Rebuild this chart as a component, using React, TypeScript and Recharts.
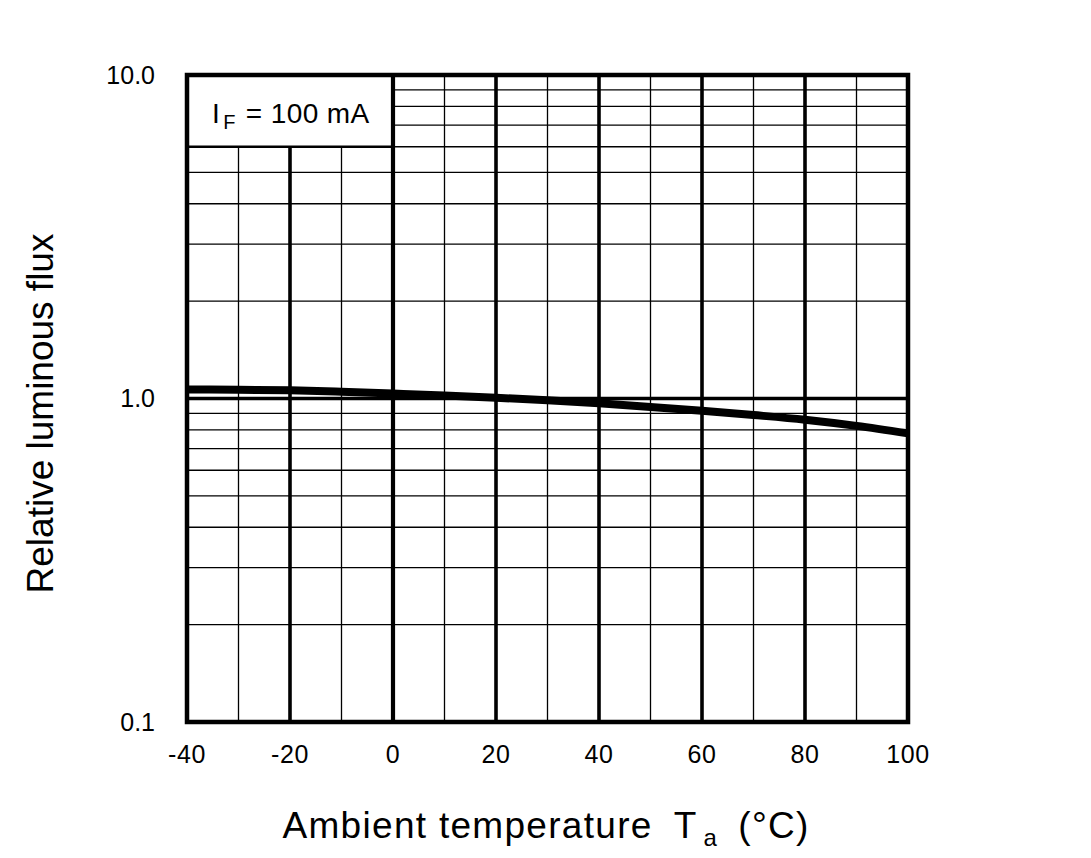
import React from "react";
import {
  ComposedChart,
  Line,
  XAxis,
  YAxis,
  ReferenceLine,
  ReferenceArea,
  Label,
} from "recharts";

// ---- data ----
const temps = [-40, -30, -20, -10, 0, 10, 20, 30, 40, 50, 60, 70, 80, 90, 100];
const flux = [1.066, 1.064, 1.06, 1.049, 1.036, 1.022, 1.006, 0.987, 0.966, 0.942, 0.916, 0.889, 0.86, 0.823, 0.78];

const xTicks = [-40, -20, 0, 20, 40, 60, 80, 100];
const yTicks = [0.1, 1, 10];
const xMajorGrid = [-20, 0, 20, 40, 60, 80];
const xMinorGrid = [-30, -10, 10, 30, 50, 70, 90];
const yMinorLow = [0.2, 0.3, 0.4, 0.5, 0.6, 0.7, 0.8, 0.9];
const yMinorHigh = [2, 3, 4, 5, 6, 7, 8, 9];
const yMajorGrid = [1];

// legend box extent (data units)
const boxX = [-40, 0];
const boxY = [6, 10];

const data = temps.map((t, i) => ({ t, flux: flux[i] }));

const FONT = "'Liberation Sans', Arial, sans-serif";
const THIN = 1.3;
const THICK = 3.6;

const LegendText = (props: any) => {
  const vb = props.viewBox || {};
  const x0 = (vb.x ?? 0) + 25;
  const yb = (vb.y ?? 0) + (vb.height ?? 0) / 2 + 12;
  return (
    <text x={x0} y={yb} fontSize={28} fontFamily={FONT} fill="#000" letterSpacing={0.4}>
      I
      <tspan dx={3} dy={6} fontSize={20}>F</tspan>
      <tspan dx={10} dy={-6}>= 100 mA</tspan>
    </text>
  );
};

const XLabel = (props: any) => {
  const vb = props.viewBox || {};
  const cx = (vb.x ?? 0) + (vb.width ?? 0) / 2;
  return (
    <text
      x={cx - 265}
      y={838}
      fontSize={37}
      fontFamily={FONT}
      fill="#000"
      letterSpacing={1.3}
    >
      <tspan>Ambient temperature</tspan>
      <tspan dx={21}>T</tspan>
      <tspan dx={6} dy={8} fontSize={24}>a</tspan>
      <tspan dx={20} dy={-8}>(°C)</tspan>
    </text>
  );
};

const YLabel = (props: any) => {
  const vb = props.viewBox || {};
  const cy = (vb.y ?? 0) + (vb.height ?? 0) / 2 + 15;
  const x = 53;
  return (
    <text
      x={x}
      y={cy}
      fontSize={37}
      fontFamily={FONT}
      fill="#000"
      textAnchor="middle"
      transform={`rotate(-90, ${x}, ${cy})`}
    >
      Relative luminous flux
    </text>
  );
};

export default function App() {
  return (
    <div style={{ position: "absolute", left: 0, top: 0, background: "#fff" }}>
      <ComposedChart
        width={1091}
        height={858}
        data={data}
        margin={{ top: 75, right: 183, bottom: 76, left: 0 }}
      >
        <XAxis
          dataKey="t"
          type="number"
          domain={[-40, 100]}
          ticks={xTicks}
          allowDataOverflow
          axisLine={false}
          tickLine={false}
          tickSize={6}
          tickMargin={17}
          height={60}
          tick={{ fontSize: 25, fontFamily: FONT, fill: "#000", letterSpacing: 0.6 }}
          interval={0}
        >
          <Label content={XLabel} />
        </XAxis>
        <YAxis
          type="number"
          scale="log"
          domain={[0.1, 10]}
          ticks={yTicks}
          allowDataOverflow
          axisLine={false}
          tickLine={false}
          tickSize={6}
          tickMargin={26}
          width={187}
          interval={0}
          tickFormatter={(v: number) => v.toFixed(1)}
          tick={{ fontSize: 25, fontFamily: FONT, fill: "#000" }}
        >
          <Label content={YLabel} />
        </YAxis>

        {/* minor vertical grid lines */}
        {xMinorGrid.map((x) => (
          <ReferenceLine
            key={`xm${x}`}
            segment={[
              { x, y: 0.1 },
              { x, y: x < boxX[1] ? boxY[0] : 10 },
            ]}
            stroke="#000"
            strokeWidth={THIN}
          />
        ))}
        {/* minor horizontal grid lines */}
        {yMinorLow.map((y) => (
          <ReferenceLine key={`yl${y}`} y={y} stroke="#000" strokeWidth={THIN} />
        ))}
        {yMinorHigh.map((y) => (
          <ReferenceLine
            key={`yh${y}`}
            segment={[
              { x: y > boxY[0] ? boxX[1] : -40, y },
              { x: 100, y },
            ]}
            stroke="#000"
            strokeWidth={y === boxY[0] ? 1.6 : THIN}
          />
        ))}
        {/* legend box bottom edge */}
        <ReferenceLine
          segment={[
            { x: boxX[0], y: boxY[0] },
            { x: boxX[1], y: boxY[0] },
          ]}
          stroke="#000"
          strokeWidth={2.6}
        />
        {/* major grid lines */}
        {xMajorGrid.map((x) => (
          <ReferenceLine
            key={`xM${x}`}
            segment={[
              { x, y: 0.1 },
              { x, y: x < boxX[1] ? boxY[0] : 10 },
            ]}
            stroke="#000"
            strokeWidth={x === 0 ? 4.2 : THICK}
          />
        ))}
        {yMajorGrid.map((y) => (
          <ReferenceLine key={`yM${y}`} y={y} stroke="#000" strokeWidth={THICK} />
        ))}

        <ReferenceArea
          x1={boxX[0]}
          x2={boxX[1]}
          y1={boxY[0]}
          y2={boxY[1]}
          fill="none"
          fillOpacity={0}
          stroke="none"
          label={<LegendText />}
        />

        <Line
          type="monotone"
          dataKey="flux"
          stroke="#000"
          strokeWidth={8}
          dot={false}
          activeDot={false}
          isAnimationActive={false}
        />

        {/* frame */}
        <ReferenceArea
          x1={-40}
          x2={100}
          y1={0.1}
          y2={10}
          fill="none"
          fillOpacity={0}
          stroke="#000"
          strokeWidth={4.5}
        />
      </ComposedChart>
    </div>
  );
}
